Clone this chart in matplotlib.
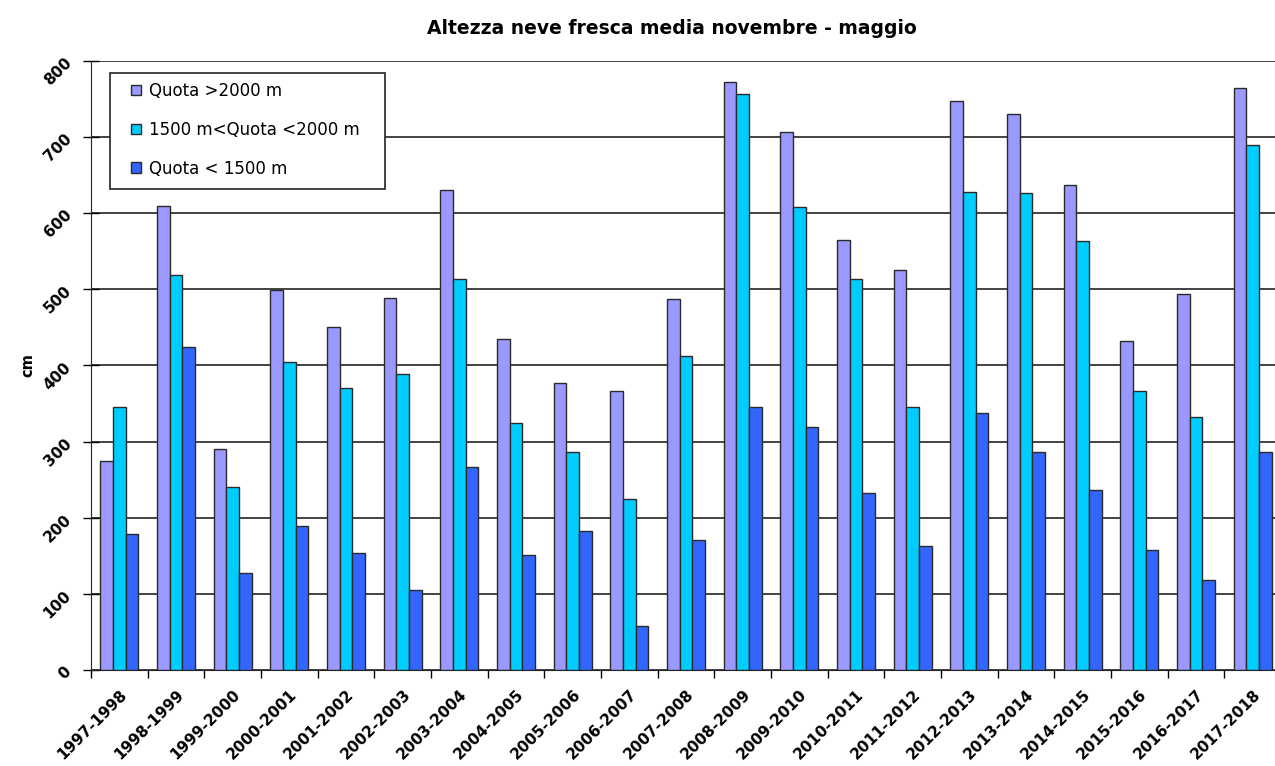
import numpy as np
import matplotlib.pyplot as plt
from matplotlib.patches import Rectangle

# dati
stagioni = ['1997-1998', '1998-1999', '1999-2000', '2000-2001', '2001-2002',
            '2002-2003', '2003-2004', '2004-2005', '2005-2006', '2006-2007',
            '2007-2008', '2008-2009', '2009-2010', '2010-2011', '2011-2012',
            '2012-2013', '2013-2014', '2014-2015', '2015-2016', '2016-2017',
            '2017-2018']

quota_alta = [274, 610, 290, 499, 451, 489, 631, 435, 377, 366,
              487, 773, 707, 565, 525, 748, 731, 637, 432, 494, 765]
quota_media = [345, 519, 241, 404, 370, 389, 514, 325, 287, 225,
               413, 757, 608, 513, 345, 628, 626, 563, 366, 332, 690]
quota_bassa = [179, 424, 127, 189, 154, 105, 267, 151, 183, 58,
               171, 345, 319, 232, 163, 338, 287, 237, 158, 118, 287]

etichette = ['Quota >2000 m', '1500 m<Quota <2000 m', 'Quota < 1500 m']
colori = ['#9999FF', '#00CCFF', '#3366FF']

fig = plt.figure(figsize=(12.75, 7.66), dpi=100)
ax = fig.add_axes([0.0714, 0.1253, 0.9333, 0.7951])

x = np.arange(len(stagioni))
w = 0.222
serie = [quota_alta, quota_media, quota_bassa]
for i, s in enumerate(serie):
    ax.bar(x + (i - 1) * w, s, w, color=colori[i], edgecolor='#2a2a2a',
           linewidth=1.0, label=etichette[i], zorder=3)

ax.set_xlim(-0.5, len(stagioni) - 0.5)
ax.set_ylim(0, 800)
ax.set_yticks(np.arange(0, 801, 100))
ax.yaxis.grid(True, color='#222222', linewidth=1.2, zorder=0)

ax.set_xticks(x)
ax.set_xticklabels(stagioni, rotation=45, ha='right', rotation_mode='anchor',
                   fontweight='bold', fontsize=11)
ax.set_xticks(np.arange(-0.5, len(stagioni), 1), minor=True)
ax.tick_params(axis='x', which='major', length=0, pad=12)
ax.tick_params(axis='x', which='minor', length=6, direction='out', width=1)

for lab in ax.get_yticklabels():
    lab.set_rotation(45)
    lab.set_fontweight('bold')
    lab.set_fontsize(11)
ax.tick_params(axis='y', direction='inout', length=12, width=1, pad=6)

ax.spines['top'].set_visible(False)
ax.spines['right'].set_visible(False)
ax.spines['left'].set_color('#222222')
ax.spines['bottom'].set_color('#222222')

ax.set_ylabel('cm', fontweight='bold', fontsize=10.5, labelpad=4)

fig.suptitle('Altezza neve fresca media novembre - maggio', fontweight='bold',
             fontsize=13.5, x=0.527, y=0.975)

# riquadro legenda
fig.patches.append(Rectangle((110 / 1275, 1 - 189 / 766), 275 / 1275, 116 / 766,
                             transform=fig.transFigure, facecolor='white',
                             edgecolor='#222222', linewidth=1.2, zorder=4))
leg = fig.legend(*ax.get_legend_handles_labels(), loc='upper left',
                 bbox_to_anchor=(131 / 1275, 1 - 82 / 766), fontsize=12,
                 frameon=False, handlelength=0.6, handleheight=0.6,
                 handletextpad=0.5, labelspacing=1.25, borderpad=0,
                 borderaxespad=0)
leg.set_zorder(5)

fig.savefig('out.png', dpi=100)
